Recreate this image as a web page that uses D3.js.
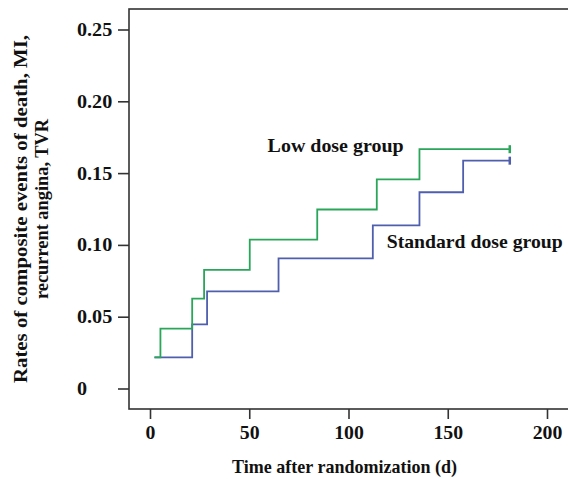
<!DOCTYPE html>
<html>
<head>
<meta charset="utf-8">
<script src="https://cdn.jsdelivr.net/npm/d3@7"></script>
<style>
  body { margin: 0; background: #fff; }
  svg text { font-family: "Liberation Serif", "DejaVu Serif", serif; font-weight: bold; fill: #111; }
</style>
</head>
<body>
<div class="chart"></div>
<script>
// step curves: [day, rate]
const lowDose = [[2, 0.022], [5, 0.042], [21, 0.063], [27, 0.083], [50, 0.104], [84, 0.125], [114, 0.146], [135.5, 0.167], [181, 0.167]];
const standardDose = [[2, 0.022], [21, 0.045], [28.5, 0.068], [64.5, 0.091], [112, 0.114], [135.5, 0.137], [157.5, 0.159], [181, 0.159]];
const xTicks = [0, 50, 100, 150, 200];
const yTicks = [0, 0.05, 0.10, 0.15, 0.20, 0.25];
const yTickLabels = ['0', '0.05', '0.10', '0.15', '0.20', '0.25'];
const groupNames = ['Low dose group', 'Standard dose group'];

const width = 568, height = 479;
const frame = {left: 129, top: 9, bottom: 409, right: 572};

const svg = d3.select('.chart').append('svg')
    .attr('width', width).attr('height', height);

const x = d3.scaleLinear([0, 200], [150.5, 547.5]);
const y = d3.scaleLinear([0, 0.25], [389, 30]);

// the original font is wider than Liberation Serif, so stretch a bit
function widen(sel, k) {
  sel.each(function() {
    const w = this.getComputedTextLength();
    d3.select(this).attr('textLength', w * k).attr('lengthAdjust', 'spacingAndGlyphs');
  });
}

// frame
svg.append('rect')
    .attr('x', frame.left).attr('y', frame.top)
    .attr('width', frame.right - frame.left).attr('height', frame.bottom - frame.top)
    .attr('fill', 'none').attr('stroke', '#333').attr('stroke-width', 1.6);

// y axis ticks, labels left-aligned like SPSS
const yAxis = svg.append('g').attr('class', 'y axis');
yAxis.selectAll('line').data(yTicks).join('line')
    .attr('x1', 118).attr('x2', frame.left)
    .attr('y1', d => y(d)).attr('y2', d => y(d))
    .attr('stroke', '#333').attr('stroke-width', 1.6);
yAxis.selectAll('text').data(yTicks).join('text')
    .attr('x', 77).attr('y', d => y(d) + 6)
    .style('font-size', '18px')
    .text((d, i) => yTickLabels[i])
    .call(widen, 1.12);

// x axis
const xAxis = svg.append('g').attr('class', 'x axis');
xAxis.selectAll('line').data(xTicks).join('line')
    .attr('x1', d => x(d)).attr('x2', d => x(d))
    .attr('y1', frame.bottom).attr('y2', 419)
    .attr('stroke', '#333').attr('stroke-width', 1.6);
xAxis.selectAll('text').data(xTicks).join('text')
    .attr('x', d => x(d)).attr('y', 439)
    .attr('text-anchor', 'middle')
    .style('font-size', '18px')
    .text(d => d)
    .call(widen, 1.1);

svg.append('text')
    .attr('x', 344.5).attr('y', 473)
    .attr('text-anchor', 'middle')
    .attr('textLength', 225).attr('lengthAdjust', 'spacingAndGlyphs')
    .style('font-size', '19px')
    .text('Time after randomization (d)');

// y title, two lines
const yTitle = svg.append('text')
    .attr('transform', 'translate(27,209) rotate(-90)')
    .attr('text-anchor', 'middle')
    .style('font-size', '19px');
yTitle.append('tspan').attr('x', 0).attr('y', 0)
    .attr('textLength', 348).attr('lengthAdjust', 'spacingAndGlyphs')
    .text('Rates of composite events of death, MI,');
yTitle.append('tspan').attr('x', 0).attr('y', 21)
    .attr('textLength', 180).attr('lengthAdjust', 'spacingAndGlyphs')
    .text('recurrent angina, TVR');

// curves
const line = d3.line().x(d => x(d[0])).y(d => y(d[1])).curve(d3.curveStepAfter);
const series = [
  {data: standardDose, color: '#4f5fae'},
  {data: lowDose, color: '#2aa65a'}
];
series.forEach(s => {
  svg.append('path').datum(s.data)
      .attr('d', line)
      .attr('fill', 'none').attr('stroke', s.color).attr('stroke-width', 1.8);
  const last = s.data[s.data.length - 1];
  // censor mark
  svg.append('line')
      .attr('x1', x(last[0])).attr('x2', x(last[0]))
      .attr('y1', y(last[1]) - 4).attr('y2', y(last[1]) + 4)
      .attr('stroke', s.color).attr('stroke-width', 2.5);
});

// group labels
svg.append('text').attr('x', x(59)).attr('y', y(0.1650))
    .attr('textLength', 136).attr('lengthAdjust', 'spacingAndGlyphs')
    .style('font-size', '19px').text(groupNames[0]);
svg.append('text').attr('x', x(119)).attr('y', y(0.0980))
    .attr('textLength', 176).attr('lengthAdjust', 'spacingAndGlyphs')
    .style('font-size', '19px').text(groupNames[1]);
</script>
</body>
</html>
